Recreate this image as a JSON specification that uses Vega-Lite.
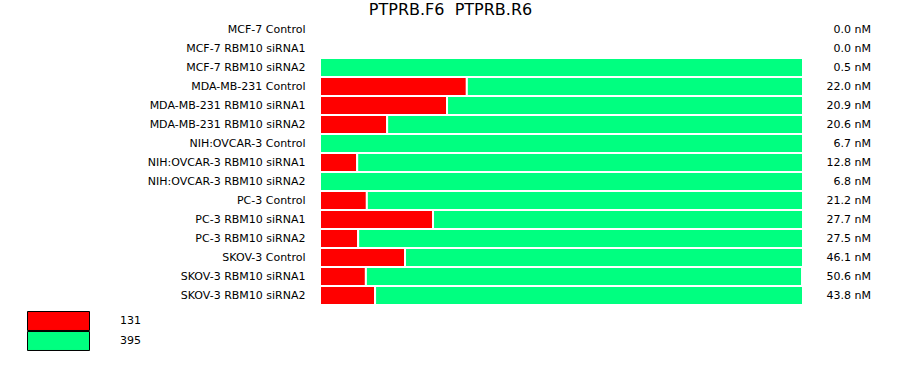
{
  "$schema": "https://vega.github.io/schema/vega-lite/v6.json",
  "width": 483,
  "height": 285,
  "autosize": "none",
  "padding": {"left": 320, "top": 20, "right": 97, "bottom": 70},
  "title": {"text": "PTPRB.F6\u00a0 PTPRB.R6", "fontSize": 16, "fontWeight": "normal", "font": "DejaVu Sans", "color": "black", "anchor": "middle", "dx": -111, "offset": 1},
  "config": {"view": {"stroke": null}, "font": "DejaVu Sans"},
  "datasets": {
    "bars": [
      {"s": "MCF-7 Control", "k": "131", "v": 0}, {"s": "MCF-7 Control", "k": "395", "v": 0},
      {"s": "MCF-7 RBM10 siRNA1", "k": "131", "v": 0}, {"s": "MCF-7 RBM10 siRNA1", "k": "395", "v": 0},
      {"s": "MCF-7 RBM10 siRNA2", "k": "131", "v": 0}, {"s": "MCF-7 RBM10 siRNA2", "k": "395", "v": 1},
      {"s": "MDA-MB-231 Control", "k": "131", "v": 0.304}, {"s": "MDA-MB-231 Control", "k": "395", "v": 0.696},
      {"s": "MDA-MB-231 RBM10 siRNA1", "k": "131", "v": 0.263}, {"s": "MDA-MB-231 RBM10 siRNA1", "k": "395", "v": 0.737},
      {"s": "MDA-MB-231 RBM10 siRNA2", "k": "131", "v": 0.139}, {"s": "MDA-MB-231 RBM10 siRNA2", "k": "395", "v": 0.861},
      {"s": "NIH:OVCAR-3 Control", "k": "131", "v": 0}, {"s": "NIH:OVCAR-3 Control", "k": "395", "v": 1},
      {"s": "NIH:OVCAR-3 RBM10 siRNA1", "k": "131", "v": 0.077}, {"s": "NIH:OVCAR-3 RBM10 siRNA1", "k": "395", "v": 0.923},
      {"s": "NIH:OVCAR-3 RBM10 siRNA2", "k": "131", "v": 0}, {"s": "NIH:OVCAR-3 RBM10 siRNA2", "k": "395", "v": 1},
      {"s": "PC-3 Control", "k": "131", "v": 0.097}, {"s": "PC-3 Control", "k": "395", "v": 0.903},
      {"s": "PC-3 RBM10 siRNA1", "k": "131", "v": 0.234}, {"s": "PC-3 RBM10 siRNA1", "k": "395", "v": 0.766},
      {"s": "PC-3 RBM10 siRNA2", "k": "131", "v": 0.079}, {"s": "PC-3 RBM10 siRNA2", "k": "395", "v": 0.921},
      {"s": "SKOV-3 Control", "k": "131", "v": 0.176}, {"s": "SKOV-3 Control", "k": "395", "v": 0.824},
      {"s": "SKOV-3 RBM10 siRNA1", "k": "131", "v": 0.095}, {"s": "SKOV-3 RBM10 siRNA1", "k": "395", "v": 0.903},
      {"s": "SKOV-3 RBM10 siRNA2", "k": "131", "v": 0.114}, {"s": "SKOV-3 RBM10 siRNA2", "k": "395", "v": 0.886}
    ],
    "nm": [
      {"s": "MCF-7 Control", "t": "0.0 nM"},
      {"s": "MCF-7 RBM10 siRNA1", "t": "0.0 nM"},
      {"s": "MCF-7 RBM10 siRNA2", "t": "0.5 nM"},
      {"s": "MDA-MB-231 Control", "t": "22.0 nM"},
      {"s": "MDA-MB-231 RBM10 siRNA1", "t": "20.9 nM"},
      {"s": "MDA-MB-231 RBM10 siRNA2", "t": "20.6 nM"},
      {"s": "NIH:OVCAR-3 Control", "t": "6.7 nM"},
      {"s": "NIH:OVCAR-3 RBM10 siRNA1", "t": "12.8 nM"},
      {"s": "NIH:OVCAR-3 RBM10 siRNA2", "t": "6.8 nM"},
      {"s": "PC-3 Control", "t": "21.2 nM"},
      {"s": "PC-3 RBM10 siRNA1", "t": "27.7 nM"},
      {"s": "PC-3 RBM10 siRNA2", "t": "27.5 nM"},
      {"s": "SKOV-3 Control", "t": "46.1 nM"},
      {"s": "SKOV-3 RBM10 siRNA1", "t": "50.6 nM"},
      {"s": "SKOV-3 RBM10 siRNA2", "t": "43.8 nM"}
    ]
  },
  "encoding": {
    "y": {
      "field": "s", "type": "nominal",
      "scale": {
        "domain": ["MCF-7 Control", "MCF-7 RBM10 siRNA1", "MCF-7 RBM10 siRNA2", "MDA-MB-231 Control", "MDA-MB-231 RBM10 siRNA1", "MDA-MB-231 RBM10 siRNA2", "NIH:OVCAR-3 Control", "NIH:OVCAR-3 RBM10 siRNA1", "NIH:OVCAR-3 RBM10 siRNA2", "PC-3 Control", "PC-3 RBM10 siRNA1", "PC-3 RBM10 siRNA2", "SKOV-3 Control", "SKOV-3 RBM10 siRNA1", "SKOV-3 RBM10 siRNA2"],
        "paddingInner": 0, "paddingOuter": 0
      },
      "axis": {"title": null, "domain": false, "ticks": false, "labelPadding": 15, "labelFontSize": 11, "labelColor": "black", "labelFont": "DejaVu Sans"}
    }
  },
  "layer": [
    {
      "data": {"name": "bars"},
      "mark": {"type": "bar", "stroke": "white", "strokeWidth": 2},
      "encoding": {
        "x": {"field": "v", "type": "quantitative", "stack": "zero", "scale": {"domain": [0, 1], "nice": false}, "axis": null},
        "order": {"field": "k"},
        "color": {
          "field": "k", "type": "nominal",
          "scale": {"domain": ["131", "395"], "range": ["#ff0000", "#00ff80"]},
          "legend": {
            "title": null, "orient": "none", "legendX": -293, "legendY": 291,
            "symbolType": "M-1,-0.306H1V0.306H-1Z", "symbolSize": 3844,
            "clipHeight": 20, "rowPadding": 0, "labelOffset": 30, "padding": 0,
            "labelFontSize": 11, "labelColor": "black", "labelFont": "DejaVu Sans",
            "symbolStrokeColor": "black", "symbolStrokeWidth": 1, "symbolOpacity": 1,
            "encode": {"symbols": {"update": {"stroke": {"value": "black"}, "strokeWidth": {"value": 1}}}}
          }
        }
      }
    },
    {
      "data": {"name": "nm"},
      "mark": {"type": "text", "align": "right", "baseline": "middle", "dx": 68, "fontSize": 11, "font": "DejaVu Sans", "color": "black"},
      "encoding": {
        "x": {"datum": 1, "type": "quantitative"},
        "text": {"field": "t"}
      }
    }
  ]
}
